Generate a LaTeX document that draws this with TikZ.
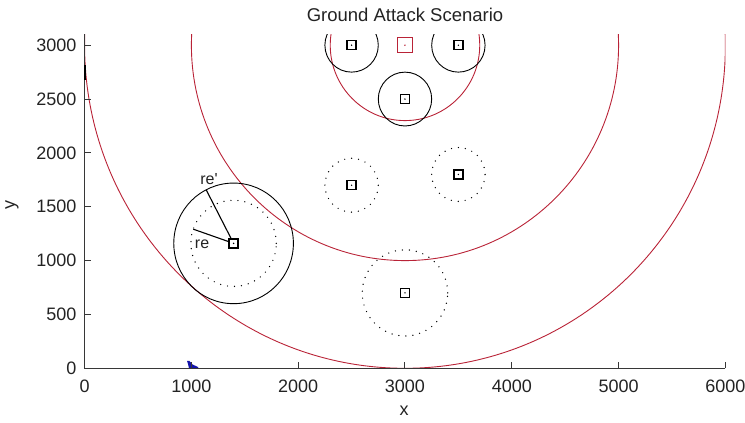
\documentclass[tikz,border=0pt]{standalone}
\usepackage{fontspec}
\setmainfont{Liberation Sans}
\definecolor{tred}{RGB}{185,35,55}
\definecolor{axgray}{RGB}{55,55,55}
\definecolor{txtgray}{RGB}{35,35,35}
\definecolor{tblue}{RGB}{20,20,170}
\begin{document}
\begin{tikzpicture}[x=1pt,y=1pt,
  ax/.style={line width=1.2pt, draw=axgray},
  tk/.style={font=\fontsize{18}{18}\selectfont, text=txtgray, inner sep=0pt},
  redc/.style={draw=tred, line width=0.9pt},
  blkc/.style={draw=black, line width=0.9pt},
  dotc/.style={draw=black, line width=1.4pt, dash pattern=on 0pt off 7pt, line cap=round},
  mk/.style={draw=black, line width=1.4pt, minimum size=9pt, inner sep=0pt},
  tgt/.style={draw=tred, line width=1.1pt, minimum size=15pt, inner sep=0pt},
  lbl/.style={font=\fontsize{16}{16}\selectfont, text=txtgray, inner sep=0pt},
]
\useasboundingbox (0,0) rectangle (745,423);
\node[font=\fontsize{18.5}{18.5}\selectfont, text=txtgray] (title) at (405,408) {Ground Attack Scenario};
\node[tk] (xlab) at (404,12) {x};
\node[tk, rotate=90] (ylab) at (12,218) {y};
% blue mark
\fill[tblue] (187,62) -- (189.5,62) -- (192.5,58.5) -- (198,56) -- (198.5,54.5) -- (189,54.5) -- (188,59) -- cycle;
\begin{scope}[shift={(84.6,54.7)}, x=0.1068pt, y=0.1077pt]
  \begin{scope}
    \clip (0,0) rectangle (6000,3100);
    \draw[redc] (3000,3000) circle[radius=3000];
    \draw[redc] (3000,3000) circle[radius=2000];
    \draw[redc] (3000,3000) circle[radius=700];
    \draw[blkc] (2500,3000) circle[radius=250];
    \draw[blkc] (3500,3000) circle[radius=250];
    \draw[blkc] (3000,2500) circle[radius=250];
    \draw[blkc] (1395,1160) circle[radius=560];
    \draw[dotc] (1395,1160) circle[radius=400];
    \draw[dotc] (2500,1700) circle[radius=250];
    \draw[dotc] (3500,1800) circle[radius=250];
    \draw[dotc] (3000,700) circle[radius=400];
  \end{scope}
  % axes
  \draw[ax] (0,3100) -- (0,0) -- (6000,0);
  \draw[line width=1.8pt, black] (0,2680) -- (0,2820);
  \foreach \v in {0,1000,...,6000} {
    \draw[ax, line width=1pt] (\v,0) -- ++(0,6.5pt);
    \node[tk, anchor=north] at ([yshift=-11.5pt]\v,0) {\v};
  }
  \foreach \v in {0,500,...,3000} {
    \draw[ax, line width=1pt] (0,\v) -- ++(6.5pt,0);
    \node[tk, anchor=east] at ([xshift=-8pt]0,\v) {\v};
  }
  % markers
  \node[tgt] (target) at (3000,3000) {};
  \fill[tred] (target.center) circle[radius=0.8pt];
  \foreach \n/\p in {m1/{(2500,3000)}, m2/{(3500,3000)}, m3/{(3000,2500)}, m4/{(2500,1700)}, m5/{(3500,1800)}, m6/{(3000,700)}, m7/{(1395,1160)}} {
    \node[mk] (\n) at \p {};
    \fill[black] (\n.center) circle[radius=0.8pt];
  }
  % radii
  \coordinate (rep) at (1138,1658);
  \coordinate (re) at (1017,1292);
  \draw[line width=1.1pt] (m7) -- (rep);
  \draw[line width=1.1pt] (m7) -- (re);
  \node[lbl] (lrep) at (1165,1760) {re\textquotesingle};
  \node[lbl] (lre) at (1100,1150) {re};
\end{scope}
\end{tikzpicture}
\end{document}
